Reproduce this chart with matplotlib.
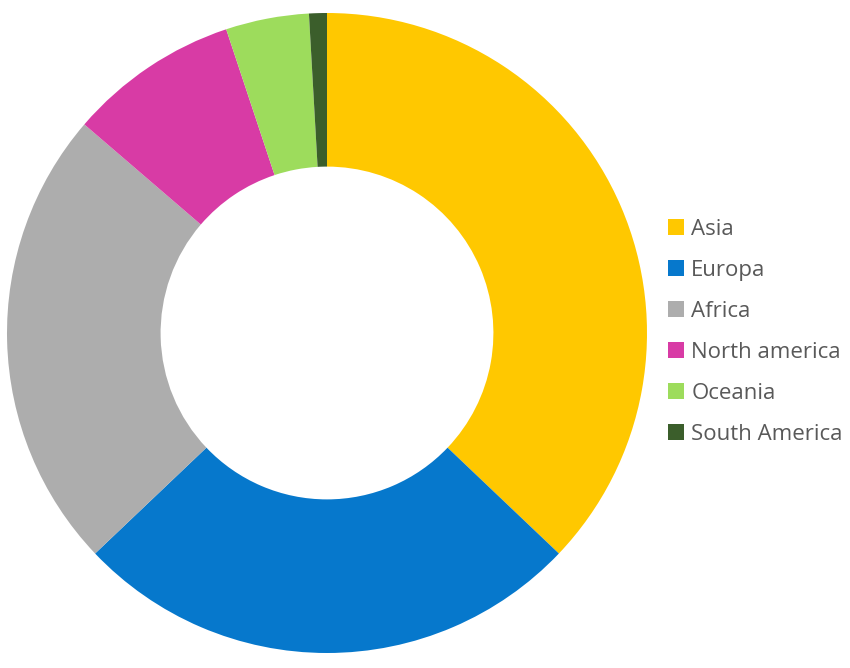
import matplotlib.pyplot as plt

# --- data (share of total, %) ---
regions = ["Asia", "Europa", "Africa", "North america", "Oceania", "South America"]
shares = [37.1, 25.8, 23.4, 8.6, 4.2, 0.9]
colors = ["#FFC800", "#0678CC", "#ADADAD", "#D83BA5", "#9DDC5C", "#3B5E2B"]

plt.rcParams["font.family"] = ["Open Sans", "DejaVu Sans"]

fig = plt.figure(figsize=(8.5, 6.68), dpi=100)
ax = fig.add_axes([7 / 850, 15 / 668, 640 / 850, 640 / 668])

wedges, _ = ax.pie(
    shares,
    colors=colors,
    startangle=90,
    counterclock=False,
    radius=1.0,
    wedgeprops=dict(width=0.48, edgecolor="none", linewidth=0),
)
ax.set_xlim(-1, 1)
ax.set_ylim(-1, 1)
ax.set_aspect("equal")
ax.axis("off")

# --- legend on the right ---
fig.legend(
    wedges,
    regions,
    loc="center left",
    bbox_to_anchor=(648 / 850, 1 - 332 / 668),
    frameon=False,
    fontsize=16,
    labelcolor="#595959",
    handlelength=0.7,
    handleheight=0.7,
    handletextpad=0.35,
    labelspacing=0.9,
)

fig.savefig("out.png", dpi=100, facecolor="white")
